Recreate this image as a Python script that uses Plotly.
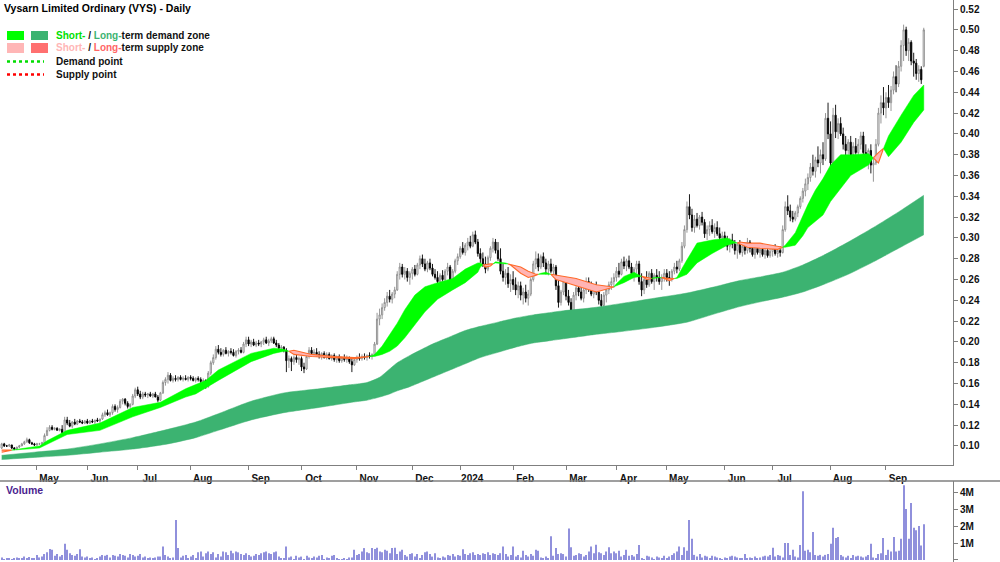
import pandas as pd
import plotly.graph_objects as go

# ---------------- data ----------------
TITLE = "Vysarn Limited Ordinary (VYS) - Daily"
START, END = "2023-04-06", "2024-09-23"
HOLIDAYS = ["2023-04-07", "2023-04-10", "2023-04-25", "2023-06-12", "2023-12-25", "2023-12-26",
            "2024-01-01", "2024-01-26", "2024-03-29", "2024-04-01", "2024-04-25", "2024-06-10"]
NO_TRADE = ["2023-05-04", "2023-05-16", "2023-05-24", "2023-06-20"]

open_ = [
    .098,.102,.100,.100,.101,.098,.097,.099,.100,.102,.104,.106,.103,.102,
    .101,.102,.102,.103,.110,.115,.118,.116,.117,.115,.116,.113,.125,.122,.119,.123,.121,.124,.123,.122,
    .124,.122,.124,.123,.125,.124,.126,.130,.132,.130,.132,.138,.135,.137,.143,.145,.141,.138,.140,.148,
    .154,.150,.147,.150,.149,.150,.148,.150,.147,.144,.151,.161,.164,.168,.163,.165,.164,.166,.164,.165,.164,
    .166,.165,.163,.165,.164,.162,.163,.157,.170,.180,.185,.193,.190,.188,.192,.189,.191,.190,.187,.191,.192,.190,.198,
    .202,.198,.200,.197,.199,.198,.200,.202,.199,.201,.203,.199,.197,.194,.195,.192,.182,.184,.181,.185,.183,
    .184,.176,.174,.186,.192,.189,.190,.188,.186,.189,.185,.188,.184,.187,.183,.186,.182,.185,.183,.184,.181,.178,
    .183,.185,.184,.186,.185,.187,.186,.188,.198,.222,.226,.233,.238,.244,.241,.246,.250,.265,.272,.265,.268,.262,
    .266,.270,.265,.274,.280,.275,.270,.276,.271,.265,.262,.258,.264,.260,.268,.272,.256,.268,.278,
    .282,.290,.286,.293,.296,.292,.303,.296,.285,.280,.275,.270,.281,.290,.296,.288,.280,.268,.262,.266,.256,
    .260,.255,.250,.254,.245,.248,.242,.246,.260,.275,.280,.272,.282,.276,.270,.275,.268,.272,.254,.238,.248,
    .258,.244,.238,.230,.245,.252,.248,.242,.250,.258,.252,.246,.253,.248,.240,.235,.245,.250,.255,.258,
    .262,.268,.265,.277,.273,.278,.272,.266,.270,.275,.258,.250,.260,.255,.266,.258,.264,.262,.258,.262,
    .266,.262,.260,.268,.272,.270,.278,.292,.308,.330,.322,.310,.318,.312,.320,.315,.304,.308,.312,.306,.310,.304,.300,
    .302,.296,.292,.298,.294,.288,.294,.286,.292,.288,.296,.290,.284,.290,.286,.289,.284,.288,.283,
    .287,.290,.285,.288,.286,.308,.330,.326,.320,.318,.324,.330,.338,.345,.352,.358,.368,.364,.375,.372,.380,.376,.415,
    .400,.372,.418,.402,.410,.400,.390,.384,.392,.380,.388,.382,.390,.398,.382,.375,.384,.370,.372,.390,.420,.430,
    .425,.435,.430,.442,.455,.448,.465,.485,.500,.480,.488,.470,.468,.458,.462,.465,
]
high = [
    .103,.103,.101,.102,.101,.099,.099,.101,.103,.105,.108,.107,.104,.103,
    .103,.103,.104,.112,.118,.120,.120,.118,.118,.117,.120,.128,.128,.125,.124,.126,.125,.126,.125,.125,
    .126,.125,.126,.125,.127,.126,.132,.134,.135,.133,.140,.140,.139,.145,.146,.146,.143,.141,.150,.156,
    .157,.153,.152,.152,.151,.152,.151,.152,.149,.152,.163,.166,.171,.170,.167,.168,.167,.168,.167,.168,.167,
    .168,.167,.166,.167,.166,.165,.164,.172,.182,.188,.196,.197,.194,.193,.195,.192,.194,.193,.192,.194,.195,.200,.205,
    .205,.202,.203,.201,.202,.201,.204,.205,.203,.205,.205,.202,.199,.197,.196,.194,.187,.186,.187,.188,.186,
    .186,.180,.188,.195,.195,.193,.194,.191,.190,.191,.190,.190,.188,.189,.187,.188,.186,.188,.187,.186,.184,.185,
    .187,.189,.188,.189,.188,.190,.189,.200,.228,.232,.237,.242,.248,.250,.248,.253,.268,.276,.275,.272,.271,.268,
    .272,.274,.276,.283,.284,.280,.278,.280,.275,.270,.268,.266,.269,.270,.276,.274,.270,.280,.285,
    .292,.296,.295,.300,.302,.306,.307,.299,.290,.286,.282,.283,.292,.300,.299,.296,.290,.275,.270,.272,.265,
    .268,.262,.258,.258,.252,.255,.250,.262,.278,.287,.285,.284,.286,.280,.278,.280,.275,.274,.260,.250,.262,
    .262,.250,.242,.248,.256,.258,.255,.252,.262,.262,.258,.255,.258,.252,.246,.248,.252,.258,.262,.266,
    .272,.276,.280,.282,.280,.283,.276,.272,.278,.278,.266,.262,.268,.268,.270,.266,.270,.268,.265,.270,
    .270,.268,.270,.276,.278,.280,.296,.312,.335,.342,.328,.322,.324,.322,.325,.318,.312,.316,.318,.314,.316,.310,.306,
    .306,.302,.300,.304,.298,.296,.298,.295,.296,.300,.298,.294,.292,.295,.292,.293,.290,.292,.290,
    .292,.294,.291,.292,.312,.335,.341,.332,.326,.326,.332,.340,.348,.357,.362,.372,.380,.378,.388,.385,.392,.420,.430,
    .412,.425,.428,.415,.416,.406,.398,.395,.398,.392,.396,.395,.402,.402,.390,.386,.390,.378,.395,.425,.437,.445,
    .440,.447,.446,.460,.466,.470,.490,.505,.503,.492,.490,.478,.472,.466,.465,.502,
]
low = [
    .097,.099,.099,.099,.097,.096,.096,.098,.100,.101,.103,.102,.101,.100,
    .100,.101,.101,.102,.110,.114,.115,.115,.115,.114,.112,.112,.120,.118,.117,.120,.120,.122,.121,.121,
    .121,.121,.122,.121,.123,.122,.125,.128,.129,.128,.130,.133,.132,.136,.140,.139,.136,.136,.139,.146,
    .148,.145,.145,.147,.146,.147,.146,.147,.142,.143,.150,.158,.160,.162,.161,.162,.162,.163,.162,.163,.162,
    .163,.162,.161,.162,.160,.160,.155,.156,.168,.178,.183,.188,.186,.186,.188,.186,.188,.186,.185,.188,.189,.189,.195,
    .196,.195,.196,.195,.196,.195,.197,.198,.196,.199,.198,.195,.192,.191,.190,.171,.175,.172,.178,.180,.178,
    .172,.170,.173,.184,.187,.186,.186,.184,.183,.184,.183,.183,.182,.181,.180,.180,.180,.181,.180,.179,.171,.177,
    .180,.182,.182,.183,.182,.184,.183,.187,.197,.216,.222,.230,.234,.238,.237,.242,.249,.260,.262,.260,.258,.255,
    .260,.263,.264,.270,.272,.268,.267,.269,.263,.260,.256,.255,.258,.259,.264,.250,.254,.266,.274,
    .280,.284,.283,.288,.290,.291,.294,.282,.276,.272,.266,.268,.278,.286,.285,.278,.265,.258,.255,.252,.248,
    .250,.245,.242,.240,.236,.238,.235,.244,.258,.270,.268,.270,.272,.265,.264,.266,.262,.250,.233,.235,.245,
    .240,.235,.224,.228,.240,.244,.240,.238,.246,.248,.244,.242,.245,.236,.228,.232,.238,.246,.250,.252,
    .258,.262,.264,.270,.268,.270,.262,.258,.266,.255,.244,.246,.252,.253,.256,.250,.258,.255,.250,.258,
    .258,.254,.258,.265,.266,.268,.276,.290,.305,.318,.306,.305,.310,.308,.312,.300,.298,.302,.304,.300,.302,.296,.292,
    .292,.288,.286,.290,.284,.280,.284,.282,.284,.285,.286,.282,.280,.284,.281,.282,.280,.281,.281,
    .282,.283,.281,.282,.285,.306,.322,.316,.315,.316,.320,.328,.334,.340,.346,.354,.360,.358,.368,.362,.370,.374,.395,
    .366,.370,.396,.395,.398,.385,.378,.380,.378,.376,.380,.378,.385,.378,.372,.366,.362,.354,.370,.388,.410,.418,
    .415,.425,.422,.438,.440,.445,.460,.470,.475,.470,.466,.455,.452,.450,.448,.464,
]
close = [
    .102,.100,.100,.101,.098,.097,.099,.100,.102,.104,.106,.103,.102,.101,
    .102,.102,.103,.110,.115,.118,.116,.117,.115,.116,.113,.125,.122,.119,.123,.121,.124,.123,.122,.124,
    .122,.124,.123,.125,.124,.126,.130,.132,.130,.132,.138,.135,.137,.143,.145,.141,.138,.140,.148,.154,
    .150,.147,.150,.149,.150,.148,.150,.147,.144,.151,.161,.164,.168,.163,.165,.164,.166,.164,.165,.164,.166,
    .165,.163,.165,.164,.162,.163,.157,.170,.180,.185,.193,.190,.188,.192,.189,.191,.190,.187,.191,.192,.190,.198,.202,
    .198,.200,.197,.199,.198,.200,.202,.199,.201,.203,.199,.197,.194,.195,.192,.182,.184,.181,.185,.183,.184,
    .176,.174,.186,.192,.189,.190,.188,.186,.189,.185,.188,.184,.187,.183,.186,.182,.185,.183,.184,.181,.178,.183,
    .185,.184,.186,.185,.187,.186,.188,.198,.222,.226,.233,.238,.244,.241,.246,.250,.265,.272,.265,.268,.262,.266,
    .270,.265,.274,.280,.275,.270,.276,.271,.265,.262,.258,.264,.260,.268,.272,.256,.268,.278,.282,
    .290,.286,.293,.296,.292,.303,.296,.285,.280,.275,.270,.281,.290,.296,.288,.280,.268,.262,.266,.256,.260,
    .255,.250,.254,.245,.248,.242,.246,.260,.275,.280,.272,.282,.276,.270,.275,.268,.272,.254,.238,.248,.258,
    .244,.238,.230,.245,.252,.248,.242,.250,.258,.252,.246,.253,.248,.240,.235,.245,.250,.255,.258,.262,
    .268,.265,.277,.273,.278,.272,.266,.270,.275,.258,.250,.260,.255,.266,.258,.264,.262,.258,.262,.266,
    .262,.260,.268,.272,.270,.278,.292,.308,.330,.322,.310,.318,.312,.320,.315,.304,.308,.312,.306,.310,.304,.300,.302,
    .296,.292,.298,.294,.288,.294,.286,.292,.288,.296,.290,.284,.290,.286,.289,.284,.288,.283,.287,
    .290,.285,.288,.286,.308,.330,.326,.320,.318,.324,.330,.338,.345,.352,.358,.368,.364,.375,.372,.380,.376,.415,.400,
    .372,.418,.402,.410,.400,.390,.384,.392,.380,.388,.382,.390,.398,.382,.375,.384,.370,.372,.390,.420,.430,.425,
    .435,.430,.442,.455,.448,.465,.485,.500,.480,.488,.470,.468,.458,.462,.452,.500,
]
volume_m = [
    0.15,0.05,0.08,0.12,0.05,0.1,0.15,0.08,0.12,0.2,0.1,0.18,0.06,0.1,
    0.3,0.15,0.2,0.35,0.45,0.65,0.6,0.25,0.35,0.2,0.3,0.95,0.6,0.4,0.3,0.25,0.35,0.63,0.2,0.15,
    0.2,0.1,0.15,0.05,0.1,0.2,0.3,0.25,0.3,0.15,0.3,0.25,0.2,0.35,0.3,0.25,0.15,0.35,0.3,0.2,
    0.25,0.35,0.15,0.2,0.1,0.15,0.1,0.15,0.2,0.2,0.8,0.3,0.2,0.1,0.15,2.35,0.7,0.15,0.25,0.3,0.1,
    0.2,0.3,0.1,0.45,0.5,0.2,0.4,0.5,0.35,0.45,0.15,0.35,0.2,0.5,0.45,0.3,0.55,0.4,0.5,0.45,0.35,0.3,0.4,
    0.3,0.2,0.25,0.35,0.3,0.4,0.45,0.5,0.4,0.35,0.45,0.5,0.2,0.1,0.1,0.8,0.15,0.2,0.05,0.25,0.15,
    0.2,0.05,0.25,0.15,0.1,0.2,0.15,0.25,0.3,0.05,0.15,0.1,0.25,0.3,0.1,0.05,0.05,0.1,0.05,0.15,0.15,0.6,
    0.3,0.35,0.5,0.7,0.45,0.4,0.7,0.65,0.72,0.5,0.45,0.6,0.55,0.4,0.7,0.72,0.35,0.5,0.6,0.3,0.2,0.35,
    0.4,0.2,0.35,0.1,0.3,0.45,0.5,0.35,0.2,0.4,0.15,0.1,0.2,0.15,0.3,0.25,0.35,0.2,0.3,
    0.25,0.63,0.35,0.3,0.4,0.45,0.3,0.35,0.3,0.4,0.35,0.45,0.3,0.4,0.35,0.3,0.4,0.8,0.35,0.2,0.3,
    0.8,0.2,0.3,0.15,0.55,0.3,0.2,0.35,0.25,0.6,0.55,0.15,0.1,0.2,0.1,1.4,0.25,0.7,0.35,0.4,0.35,
    0.2,1.85,0.75,0.25,0.3,0.4,0.35,0.2,0.3,0.5,0.8,0.4,0.9,0.45,0.4,0.3,0.5,0.75,0.4,0.5,
    0.4,0.55,0.2,0.3,0.6,0.25,0.3,0.2,0.35,0.88,0.1,0.05,0.25,0.2,0.15,0.05,0.2,0.15,0.1,0.25,
    0.1,0.2,0.3,0.4,0.5,0.8,0.3,0.75,0.55,2.35,1.25,0.3,0.2,0.35,0.15,0.25,0.2,0.1,0.25,0.2,0.15,0.1,0.05,
    0.15,0.1,0.2,0.25,0.2,0.15,0.1,0.1,0.35,0.1,0.15,0.1,0.2,0.1,0.15,0.2,0.25,0.2,0.3,
    0.72,0.2,0.3,0.25,0.15,1.0,1.0,0.3,0.6,0.2,0.15,0.88,4.05,0.55,0.6,0.45,1.65,0.3,0.25,0.3,0.2,0.3,0.35,
    0.95,1.9,1.3,1.35,0.3,0.2,0.15,0.25,0.1,0.3,0.2,0.25,0.2,0.15,0.2,0.3,0.95,0.15,0.1,0.35,0.4,1.3,
    0.3,0.6,0.5,1.35,0.5,0.55,1.25,4.4,3.0,1.25,3.35,1.9,1.75,2.0,0.85,2.1,
]

# long-term demand zone (bar index, lower edge, upper edge)
lt_idx = [0, 13, 26, 39, 52, 66, 77, 86, 99, 112, 126, 139, 145, 150, 154, 157, 162, 166, 171, 178, 184, 190,
          197, 204, 211, 217, 223, 235, 246, 259, 272, 283, 293, 302, 310, 318, 326, 336, 346, 356, 366]
lt_low = [.087, .089, .091, .094, .097, .102, .108, .115, .125, .132, .137, .142, .144, .147, .150, .153, .157, .161, .166, .173, .179, .185,
          .190, .195, .199, .201, .203, .207, .210, .214, .219, .227, .234, .239, .243, .248, .255, .265, .277, .290, .303]
lt_high = [.091, .094, .097, .102, .108, .116, .123, .131, .143, .151, .155, .159, .161, .166, .174, .180, .187, .192, .198, .205, .211, .215,
           .219, .223, .226, .228, .230, .233, .237, .242, .247, .253, .259, .263, .267, .274, .283, .296, .310, .325, .341]

# short-term zone edges (fast above slow = demand, fast below slow = supply)
st_idx = [0, 4, 10, 15, 18, 26, 39, 52, 63, 73, 77, 81, 86, 99, 108, 112, 114, 116, 123, 132, 140, 146, 148,
          151, 154, 157, 160, 164, 168, 173, 179, 184, 189, 190, 191, 192, 194, 195, 196, 200, 201, 202, 206, 209, 212, 213, 214,
          216, 218, 220, 228, 236, 242, 243, 244, 247, 251, 254, 256, 258, 259, 262, 265, 267, 268, 272, 276,
          282, 288, 291, 292, 293, 296, 301, 308, 310, 311, 315, 318, 320, 323, 326, 329, 333, 337, 344, 346, 348, 350, 352,
          357, 362, 366]
st_fast = [.094, .096, .098, .100, .105, .115, .122, .137, .142, .155, .159, .163, .173, .189, .194, .193, .191, .188, .186, .185, .184, .186, .188,
           .196, .207, .218, .231, .245, .253, .257, .261, .270, .276, .276, .274, .272, .273, .275, .277, .276, .275, .274, .266, .262, .264, .265, .266,
           .267, .265, .260, .254, .248, .252, .253, .256, .263, .267, .263, .260, .261, .262, .262, .259, .261, .262, .279, .295,
           .298, .300, .296, .295, .294, .291, .290, .289, .291, .293, .305, .322, .332, .346, .357, .370, .380, .380, .381, .377, .372, .386, .398,
           .418, .437, .447]
st_slow = [.096, .096, .097, .098, .101, .111, .115, .128, .137, .147, .150, .156, .163, .181, .189, .191, .191, .192, .188, .186, .185, .186, .186,
           .188, .191, .196, .204, .216, .229, .241, .250, .257, .267, .272, .274, .274, .275, .275, .276, .275, .275, .275, .272, .268, .265, .265, .265,
           .265, .265, .264, .261, .255, .253, .253, .254, .257, .262, .263, .262, .261, .261, .262, .261, .261, .261, .265, .276,
           .285, .293, .295, .295, .296, .295, .295, .292, .291, .291, .293, .302, .310, .316, .322, .335, .348, .360, .370, .377, .382, .386, .378,
           .392, .411, .423]

# ---------------- layout helpers ----------------
W, H = 1000, 562
FONT = "Liberation Sans, Arial, sans-serif"
AXIS_GREY = "#7f7f7f"


def px(x):
    return x / W


def py(y):
    return 1 - y / H


dates = pd.bdate_range(START, END, freq="C", holidays=HOLIDAYS + NO_TRADE)
n = len(close)
dates = dates[:n]
idx = list(range(n))

tickvals, ticktext = [], []
for i in range(1, n):
    if dates[i].month != dates[i - 1].month:
        tickvals.append(i)
        ticktext.append(str(dates[i].year) if dates[i].month == 1 else dates[i].strftime("%b"))

fig = go.Figure()

# long-term zone: lower edge, then upper edge filled down to it
fig.add_trace(go.Scatter(
    x=lt_idx, y=lt_low, mode="lines",
    line=dict(color="#3cb371", width=0.5, shape="spline", smoothing=0.6),
    hoverinfo="skip", showlegend=False, xaxis="x", yaxis="y"))
fig.add_trace(go.Scatter(
    x=lt_idx, y=lt_high, mode="lines", fill="tonexty", fillcolor="#3cb371",
    line=dict(color="#3cb371", width=0.5, shape="spline", smoothing=0.6),
    hoverinfo="skip", showlegend=False, xaxis="x", yaxis="y"))

# short-term zone, split into demand / supply runs
runs = []
for k in range(len(st_idx) - 1):
    d = (st_fast[k] - st_slow[k]) + (st_fast[k + 1] - st_slow[k + 1])
    state = "demand" if d >= 0 else "supply"
    if runs and runs[-1][0] == state:
        runs[-1][2] = k + 1
    else:
        runs.append([state, k, k + 1])
for state, a, b in runs:
    xs = st_idx[a:b + 1]
    up = st_fast[a:b + 1]
    dn = st_slow[a:b + 1]
    if state == "demand":
        fc, lc, lw = "#00ff00", "#00ff00", 0.5
    else:
        fc, lc, lw = "#ffb4b4", "#ff6a2a", 1.1
    fig.add_trace(go.Scatter(
        x=xs + xs[::-1], y=up + dn[::-1], fill="toself", fillcolor=fc,
        line=dict(color=lc, width=lw), mode="lines", hoverinfo="skip",
        showlegend=False, xaxis="x", yaxis="y"))

# candles
fig.add_trace(go.Candlestick(
    x=idx, open=open_, high=high, low=low, close=close,
    increasing=dict(line=dict(color="#8a8a8a", width=0.9), fillcolor="#ffffff"),
    decreasing=dict(line=dict(color="#000000", width=0.9), fillcolor="#000000"),
    whiskerwidth=0, showlegend=False, xaxis="x", yaxis="y", hoverinfo="skip"))

# volume
fig.add_trace(go.Bar(
    x=idx, y=volume_m, width=0.42, marker=dict(color="#9090dc", line=dict(width=0)),
    showlegend=False, xaxis="x2", yaxis="y2", hoverinfo="skip"))

XR = [-0.67, 377.6]
tick_font = dict(family=FONT, size=10, color="#111111", weight="bold")

fig.update_layout(
    width=W, height=H, margin=dict(l=0, r=0, t=0, b=0),
    paper_bgcolor="white", plot_bgcolor="white", showlegend=False,
    font=dict(family=FONT),
    xaxis=dict(domain=[0, 0.953], range=XR, showgrid=False, zeroline=False,
               showline=True, linecolor=AXIS_GREY, linewidth=1,
               ticks="outside", ticklen=4, tickcolor=AXIS_GREY,
               tickvals=tickvals, ticktext=ticktext, tickfont=tick_font,
               ticklabelshift=12, rangeslider=dict(visible=False), anchor="y"),
    yaxis=dict(domain=[py(465), 1], range=[0.0817, 0.5287], side="right", anchor="x",
               showgrid=False, zeroline=False, showline=True, linecolor=AXIS_GREY,
               ticks="outside", ticklen=4, tickcolor=AXIS_GREY,
               tickvals=[round(0.10 + 0.02 * k, 2) for k in range(22)],
               tickformat=".2f", tickfont=tick_font),
    xaxis2=dict(domain=[0, 0.953], range=XR, showgrid=False, zeroline=False,
                showline=False, showticklabels=False, ticks="", anchor="y2", matches="x"),
    yaxis2=dict(domain=[0, py(481)], range=[-0.118, 4.647], side="right", anchor="x2",
                showgrid=False, zeroline=False, showline=True, linecolor=AXIS_GREY,
                ticks="outside", ticklen=4, tickcolor=AXIS_GREY,
                tickvals=[0, 1, 2, 3, 4], ticktext=["0", "1M", "2M", "3M", "4M"],
                tickfont=tick_font),
)

shapes = [
    dict(type="line", xref="paper", yref="paper", x0=0, x1=1, y0=py(481), y1=py(481),
         line=dict(color=AXIS_GREY, width=1.5)),
    # legend swatches
    dict(type="rect", xref="paper", yref="paper", x0=px(7), x1=px(24), y0=py(40), y1=py(31),
         fillcolor="#00ff00", line=dict(width=0)),
    dict(type="rect", xref="paper", yref="paper", x0=px(31), x1=px(48), y0=py(40), y1=py(31),
         fillcolor="#3cb371", line=dict(width=0)),
    dict(type="rect", xref="paper", yref="paper", x0=px(7), x1=px(24), y0=py(53), y1=py(43),
         fillcolor="#ffb6b6", line=dict(width=0)),
    dict(type="rect", xref="paper", yref="paper", x0=px(31), x1=px(48), y0=py(53), y1=py(43),
         fillcolor="#ff7070", line=dict(width=0)),
    dict(type="line", xref="paper", yref="paper", x0=px(7), x1=px(44), y0=py(61.5), y1=py(61.5),
         line=dict(color="#00dd00", width=2.5, dash="dot")),
    dict(type="line", xref="paper", yref="paper", x0=px(7), x1=px(44), y0=py(74.5), y1=py(74.5),
         line=dict(color="#ff0000", width=2.5, dash="dot")),
]
fig.update_layout(shapes=shapes)

lab_font = dict(family=FONT, size=10, color="#111111", weight="bold")
annotations = [
    dict(text=TITLE, x=px(2), y=py(8), xanchor="left", yanchor="middle",
         font=dict(family=FONT, size=10.5, color="#000000", weight="bold")),
    dict(text="<span style='color:#00e000'>Short-</span> / <span style='color:#3cb371'>Long-</span>term demand zone",
         x=px(54), y=py(35.5), xanchor="left", yanchor="middle", font=lab_font),
    dict(text="<span style='color:#ffb6b6'>Short-</span> / <span style='color:#ff6666'>Long-</span>term supply zone",
         x=px(54), y=py(48), xanchor="left", yanchor="middle", font=lab_font),
    dict(text="Demand point", x=px(54), y=py(62), xanchor="left", yanchor="middle", font=lab_font),
    dict(text="Supply point", x=px(54), y=py(75), xanchor="left", yanchor="middle", font=lab_font),
    dict(text="Volume", x=px(4), y=py(490), xanchor="left", yanchor="middle",
         font=dict(family=FONT, size=10.5, color="#4b1f8f", weight="bold")),
]
for a in annotations:
    a.update(xref="paper", yref="paper", showarrow=False)
fig.update_layout(annotations=annotations)

fig.write_html("out.html")
